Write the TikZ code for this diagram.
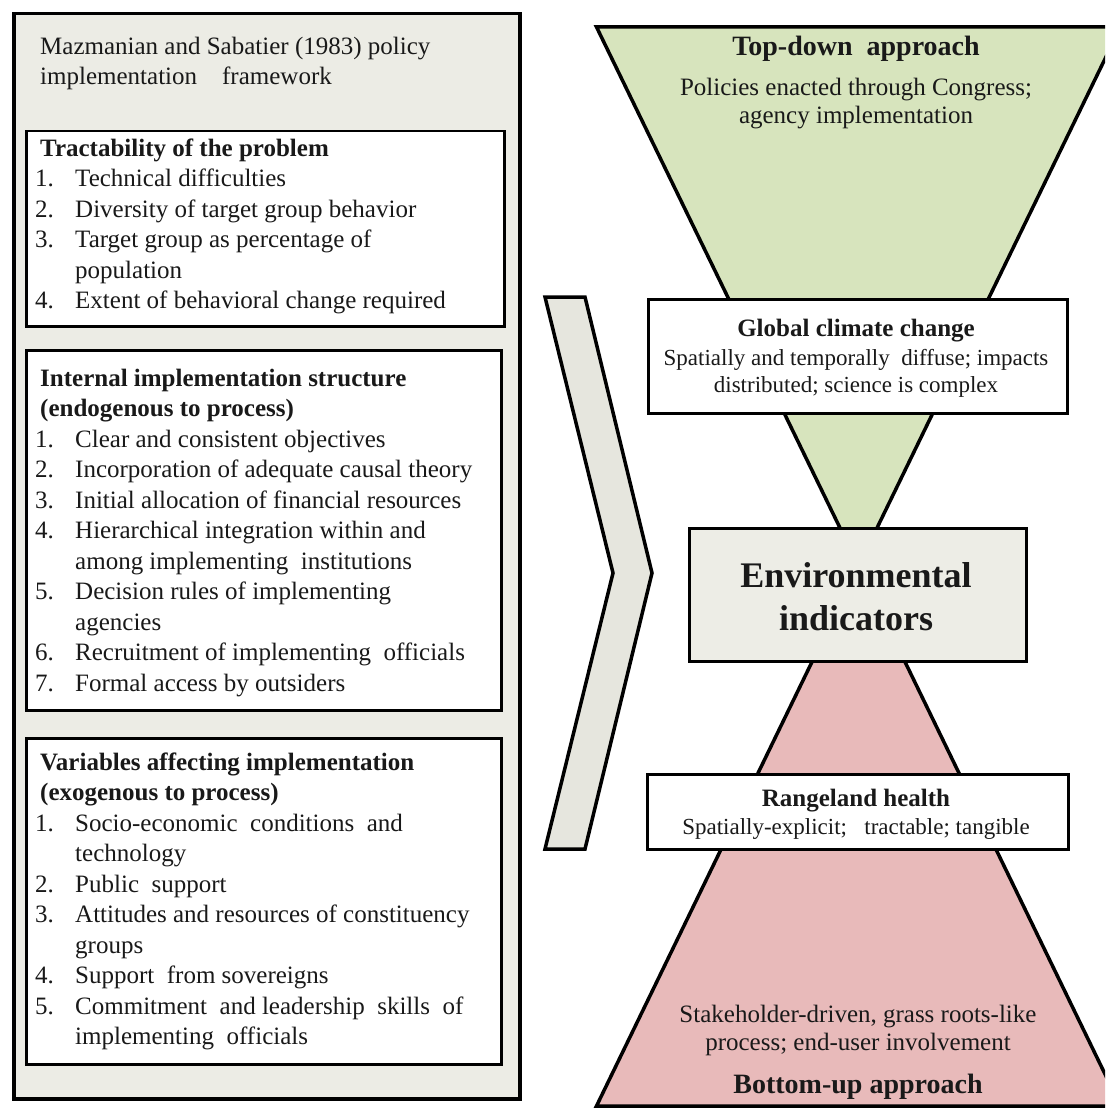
\documentclass[tikz,border=0pt]{standalone}
\usepackage{fontspec}
\setmainfont{Liberation Serif}
\definecolor{greenfill}{RGB}{215,228,189}
\definecolor{pinkfill}{RGB}{232,186,186}
\definecolor{panelgrey}{RGB}{236,236,229}
\definecolor{chevfill}{RGB}{230,230,222}
\definecolor{envfill}{RGB}{237,237,230}
\definecolor{textdark}{RGB}{25,25,25}
\begin{document}
\begin{tikzpicture}[x=1pt,y=-1pt,
  panel/.style={draw=black, line width=3.5pt, fill=panelgrey, inner sep=0pt, anchor=north west},
  listbox/.style={draw=black, line width=2.5pt, fill=white, inner sep=0pt, anchor=north west},
  lefttext/.style={anchor=north west, inner sep=0pt, align=left, text=textdark, font=\fontsize{25}{30.5}\selectfont},
  ctext/.style={anchor=base, inner sep=0pt, text=textdark, font=\fontsize{25}{30}\selectfont},
  csmall/.style={anchor=base, inner sep=0pt, text=textdark, font=\fontsize{23}{28}\selectfont},
  ctitle/.style={anchor=base, inner sep=0pt, text=textdark, font=\bfseries\fontsize{25}{30}\selectfont},
  cbig/.style={anchor=base, inner sep=0pt, text=textdark, font=\bfseries\fontsize{28}{32}\selectfont},
  shapeline/.style={draw=black, line width=3.5pt, line join=miter}
]
\useasboundingbox (0,0) rectangle (1105,1110);
\clip (0,0) rectangle (1105,1110);
\fill[white] (0,0) rectangle (1105,1110);

% ---------- left panel ----------
\node[panel, minimum width=506pt, minimum height=1085pt] (panel) at (12,12) {};
\node[lefttext] (hdr) at (40,32.6) {\strut Mazmanian and Sabatier (1983) policy\\implementation\quad framework};

\node[listbox, minimum width=478pt, minimum height=195pt] (tracbox) at (25,130) {};
\node[lefttext] (trac) at (35,134.6) {\strut\hspace*{5pt}\textbf{Tractability of the problem}\\
\makebox[40pt][l]{1.}Technical difficulties\\
\makebox[40pt][l]{2.}Diversity of target group behavior\\
\makebox[40pt][l]{3.}Target group as percentage of\\
\hspace*{40pt}population\\
\makebox[40pt][l]{4.}Extent of behavioral change required};

\node[listbox, minimum width=475pt, minimum height=360pt] (intbox) at (25,349) {};
\node[lefttext] (int) at (35,364.6) {\strut\hspace*{5pt}\textbf{Internal implementation structure}\\
\hspace*{5pt}\textbf{(endogenous to process)}\\
\makebox[40pt][l]{1.}Clear and consistent objectives\\
\makebox[40pt][l]{2.}Incorporation of adequate causal theory\\
\makebox[40pt][l]{3.}Initial allocation of financial resources\\
\makebox[40pt][l]{4.}Hierarchical integration within and\\
\hspace*{40pt}among implementing\ \ institutions\\
\makebox[40pt][l]{5.}Decision rules of implementing\\
\hspace*{40pt}agencies\\
\makebox[40pt][l]{6.}Recruitment of implementing\ \ officials\\
\makebox[40pt][l]{7.}Formal access by outsiders};

\node[listbox, minimum width=475pt, minimum height=326pt] (varbox) at (25,737) {};
\node[lefttext] (var) at (35,748.6) {\strut\hspace*{5pt}\textbf{Variables affecting implementation}\\
\hspace*{5pt}\textbf{(exogenous to process)}\\
\makebox[40pt][l]{1.}Socio-economic\ \ conditions\ \ and\\
\hspace*{40pt}technology\\
\makebox[40pt][l]{2.}Public\ \ support\\
\makebox[40pt][l]{3.}Attitudes and resources of constituency\\
\hspace*{40pt}groups\\
\makebox[40pt][l]{4.}Support\ \ from sovereigns\\
\makebox[40pt][l]{5.}Commitment\ \ and leadership\ \ skills\ \ of\\
\hspace*{40pt}implementing\ \ officials};

% ---------- chevron ----------
\filldraw[shapeline, fill=chevfill] (545,297) -- (585,297) -- (652,573) -- (585,849) -- (545,849) -- (613,573) -- cycle;

% ---------- hourglass ----------
\coordinate (apex) at (858.5,566);
\filldraw[shapeline, fill=greenfill] (596.5,27) -- (1120.5,27) -- (apex) -- cycle;
\filldraw[shapeline, fill=pinkfill] (596.5,1106) -- (1120.5,1106) -- (apex) -- cycle;

% ---------- boxes on the hourglass ----------
\node[listbox, minimum width=419pt, minimum height=114pt] (gbox) at (647,298) {};
\node[listbox, fill=envfill, minimum width=337pt, minimum height=133pt] (ebox) at (688,527) {};
\node[listbox, minimum width=421pt, minimum height=75pt] (rbox) at (646,773) {};

% ---------- right texts ----------
\node[cbig] (tdt) at (856,56) {Top-down\ \ approach};
\node[ctext] (td1) at (856,96) {Policies enacted through Congress;};
\node[ctext] (td2) at (856,124) {agency implementation};

\node[ctitle] (gt) at (856,336) {Global climate change};
\node[csmall] (g1) at (856,365) {Spatially and temporally\ \ diffuse; impacts};
\node[csmall] (g2) at (856,392) {distributed; science is complex};

\node[anchor=base, inner sep=0pt, text=textdark, font=\bfseries\fontsize{36}{43}\selectfont] (et1) at (856,587) {Environmental};
\node[anchor=base, inner sep=0pt, text=textdark, font=\bfseries\fontsize{36}{43}\selectfont] (et2) at (856,630) {indicators};

\node[ctitle] (rt) at (856,806) {Rangeland health};
\node[csmall] (r1) at (856,834) {Spatially-explicit;\ \ \ tractable; tangible};

\node[ctext] (b1) at (858,1022) {Stakeholder-driven,\ grass roots-like};
\node[ctext] (b2) at (858,1050) {process; end-user involvement};
\node[cbig] (bt) at (858,1093) {Bottom-up approach};
\end{tikzpicture}
\end{document}
